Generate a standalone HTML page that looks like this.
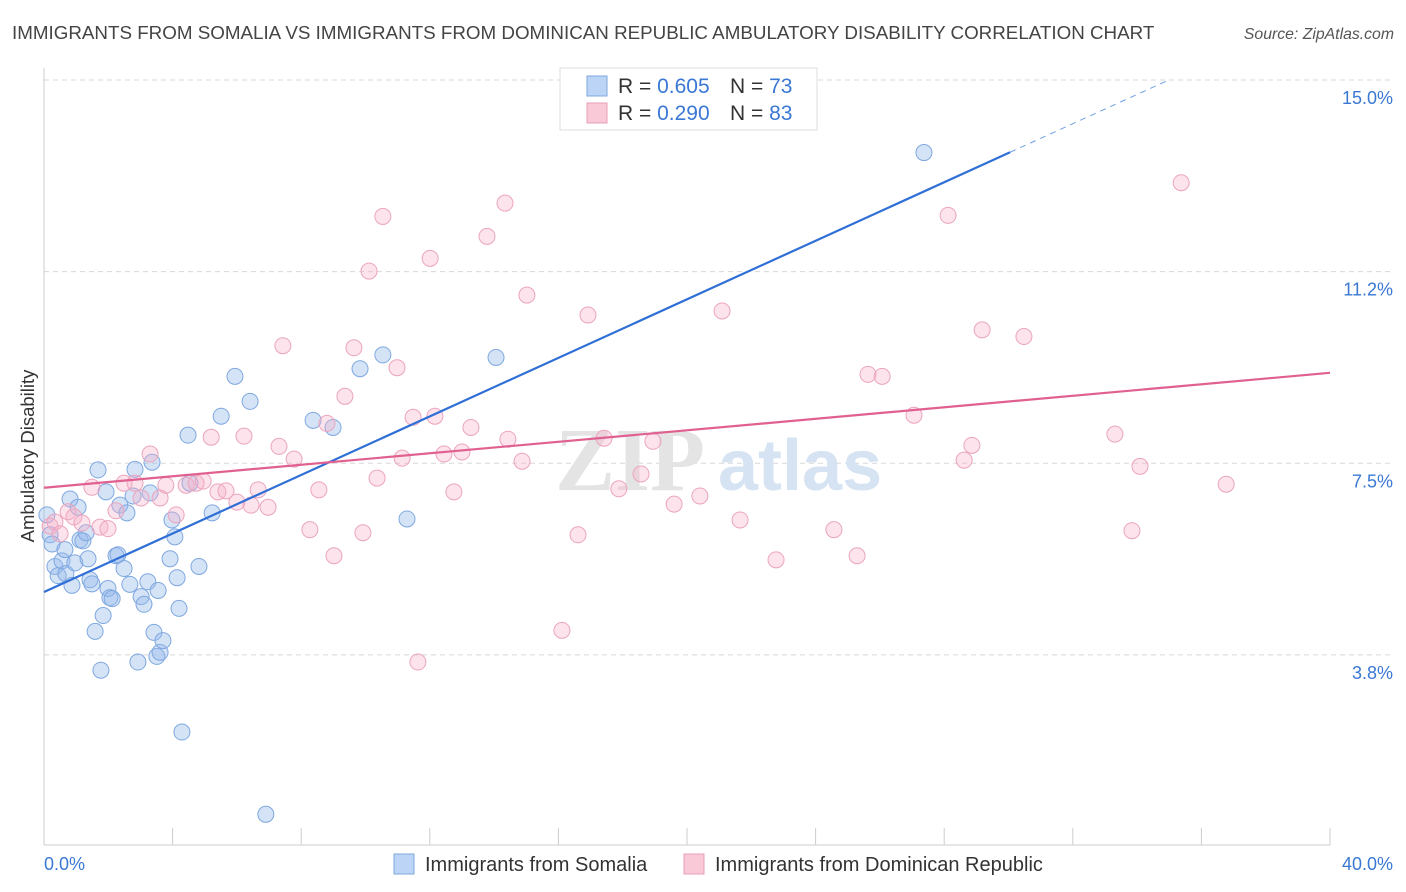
<!DOCTYPE html>
<html><head><meta charset="utf-8">
<style>
body{margin:0;background:#fff;font-family:"Liberation Sans",sans-serif;}
svg{display:block}
</style></head>
<body>
<svg id="chart" width="1406" height="892">
<text x="12" y="39" font-size="18.8" fill="#444">IMMIGRANTS FROM SOMALIA VS IMMIGRANTS FROM DOMINICAN REPUBLIC AMBULATORY DISABILITY CORRELATION CHART</text>
<text x="1394" y="39" font-size="15.8" fill="#555" font-style="italic" text-anchor="end">Source: ZipAtlas.com</text>
<g id="grid"></g>
<g id="axes"></g>
<text x="555" y="490" font-size="90" font-family="Liberation Serif,serif" fill="#e4e4e4" font-weight="bold">ZIP</text>
<text x="718" y="490" font-size="72" fill="#d6e3f3" font-weight="bold">atlas</text>
<g id="marks"></g>
<text transform="translate(34,456) rotate(-90)" font-size="18.5" fill="#333" text-anchor="middle">Ambulatory Disability</text>
<g>
<rect x="560" y="68" width="257" height="62" fill="#fff" stroke="#ddd"/>
<rect x="587" y="76" width="20" height="20" fill="#bcd4f5" stroke="#7fa8e0"/>
<rect x="587" y="103" width="20" height="20" fill="#f9c9d8" stroke="#e8a0b8"/>
<text x="618" y="93" font-size="21" fill="#333">R = <tspan fill="#3a78d4">0.605</tspan></text>
<text x="730" y="93" font-size="21" fill="#333">N = <tspan fill="#3a78d4">73</tspan></text>
<text x="618" y="120" font-size="21" fill="#333">R = <tspan fill="#3a78d4">0.290</tspan></text>
<text x="730" y="120" font-size="21" fill="#333">N = <tspan fill="#3a78d4">83</tspan></text>
</g>
<g>
<rect x="394" y="854" width="20" height="20" fill="#bcd4f5" stroke="#7fa8e0"/>
<text x="425" y="871" font-size="20" fill="#333">Immigrants from Somalia</text>
<rect x="684" y="854" width="20" height="20" fill="#f9c9d8" stroke="#e8a0b8"/>
<text x="715" y="871" font-size="20" fill="#333">Immigrants from Dominican Republic</text>
</g>
</svg>
<script>
const yTicks=[15.0,11.25,7.5,3.75];
const yTickLabels=["15.0%","11.2%","7.5%","3.8%"];
const xTickVals=[0,4,8,12,16,20,24,28,32,36,40];
const xEndLabels=["0.0%","40.0%"];
const somaliaX=[0.09,0.19,0.25,0.34,0.44,0.56,0.65,0.68,0.81,0.87,0.96,1.06,1.12,1.21,1.31,1.37,1.43,1.49,1.59,1.68,1.77,1.84,1.93,1.99,2.05,2.12,2.24,2.30,2.36,2.49,2.58,2.67,2.77,2.83,2.92,3.02,3.11,3.23,3.30,3.36,3.42,3.51,3.55,3.61,3.70,3.92,3.98,4.07,4.14,4.20,4.29,4.48,4.54,4.82,5.23,5.51,5.94,6.41,6.90,8.37,8.99,9.83,10.54,11.29,14.06,27.37];
const somaliaY=[6.49,6.10,5.92,5.48,5.30,5.59,5.81,5.34,6.80,5.11,5.55,6.64,6.00,5.98,6.14,5.63,5.22,5.14,4.21,7.37,3.45,4.52,6.94,5.05,4.87,4.85,5.69,5.71,6.68,5.44,6.53,5.13,6.86,7.38,3.61,4.89,4.74,5.18,6.92,7.52,4.19,3.72,5.01,3.80,4.03,5.63,6.39,6.06,5.26,4.66,2.24,8.05,7.11,5.48,6.53,8.42,9.20,8.71,0.63,8.34,8.20,9.35,9.62,6.41,9.57,13.58];
const domX=[0.19,0.34,0.50,0.75,0.93,1.18,1.49,1.74,1.99,2.24,2.49,2.83,3.02,3.30,3.61,3.79,4.11,4.42,4.73,4.95,5.20,5.41,5.66,6.00,6.22,6.44,6.66,6.97,7.31,7.43,7.78,8.27,8.55,8.80,9.02,9.36,9.64,9.92,10.11,10.36,10.54,10.98,11.14,11.48,11.63,12.01,12.16,12.44,12.75,13.00,13.28,13.78,14.34,14.43,14.87,15.02,16.11,16.61,16.92,17.42,17.88,18.57,18.94,19.60,20.40,21.09,21.65,22.77,24.57,25.29,25.63,26.07,27.06,28.12,28.62,28.86,29.18,30.48,33.31,34.09,33.84,35.37,36.77];
const domY=[6.27,6.35,6.12,6.55,6.45,6.33,7.03,6.25,6.22,6.57,7.11,7.11,6.82,7.68,6.82,7.07,6.49,7.07,7.11,7.15,8.01,6.94,6.96,6.74,8.03,6.68,6.98,6.64,7.83,9.80,7.58,6.20,6.98,8.28,5.69,8.81,9.76,6.14,11.26,7.21,12.33,9.37,7.60,8.40,3.61,11.51,8.42,7.68,6.94,7.72,8.20,11.94,12.59,7.97,7.54,10.79,4.23,6.10,10.40,7.99,7.00,7.29,7.93,6.70,6.86,10.48,6.39,5.61,6.20,5.69,9.24,9.20,8.44,12.35,7.56,7.85,10.11,9.98,8.07,7.44,6.18,12.99,7.09];
const somaliaTrend=[4.98,0.2864];   // intercept, slope
const somaliaTrendRange=[0,30.05,35.02]; // solid end, dashed end
const domTrend=[7.02,0.05625];
const domTrendRange=[0,40];

const X0=44,X1=1330,YTOP=80,PPU=51.1;
const xs=v=>X0+(v/40)*(X1-X0);
const ys=v=>YTOP+(15-v)*PPU;
const NS="http://www.w3.org/2000/svg";
function mk(tag,attrs,parent){const e=document.createElementNS(NS,tag);for(const k in attrs)e.setAttribute(k,attrs[k]);parent.appendChild(e);return e;}
const grid=document.getElementById('grid'),axes=document.getElementById('axes'),marks=document.getElementById('marks');
yTicks.forEach((t,i)=>{
  const l=mk('line',{x1:X0,x2:1393,y1:ys(t),y2:ys(t),stroke:'#d8d8d8','stroke-dasharray':'5,4'},grid);
  
  
  const tx=mk('text',{x:1393,y:ys(t)+24,'font-size':18,fill:'#3a78d4','text-anchor':'end'},axes);
  tx.textContent=yTickLabels[i];
  
  
});
const ax=mk('line',{x1:X0,x2:X1,y1:845,y2:845,stroke:'#ccc'},axes);


const ay=mk('line',{x1:X0,x2:X0,y1:68,y2:845,stroke:'#ccc'},axes);


xTickVals.forEach(t=>{
  const l=mk('line',{x1:xs(t),x2:xs(t),y1:828,y2:845,stroke:'#ccc'},axes);
  
  
});
[[0,'start',44],[40,'end',1393]].forEach((d,i)=>{
  const tx=mk('text',{x:d[2],y:870,'font-size':18,fill:'#3a78d4','text-anchor':d[1]},axes);
  tx.textContent=xEndLabels[i];
  
  
});
somaliaX.forEach((x,i)=>{
  const c=mk('circle',{cx:xs(x),cy:ys(somaliaY[i]),r:8,fill:'rgba(150,185,235,0.4)',stroke:'#7fa8e0','stroke-width':1},marks);
  
  
});
domX.forEach((x,i)=>{
  const c=mk('circle',{cx:xs(x),cy:ys(domY[i]),r:8,fill:'rgba(245,175,200,0.35)',stroke:'#eba5bd','stroke-width':1},marks);
  
  
});
const sf=x=>somaliaTrend[0]+somaliaTrend[1]*x;
const t1=mk('line',{x1:xs(somaliaTrendRange[0]),y1:ys(sf(somaliaTrendRange[0])),x2:xs(somaliaTrendRange[1]),y2:ys(sf(somaliaTrendRange[1])),stroke:'#2f6fd6','stroke-width':2.2},marks);


const t2=mk('line',{x1:xs(somaliaTrendRange[1]),y1:ys(sf(somaliaTrendRange[1])),x2:xs(somaliaTrendRange[2]),y2:ys(sf(somaliaTrendRange[2])),stroke:'#6f9fe0','stroke-width':1,'stroke-dasharray':'6,5'},marks);


const df=x=>domTrend[0]+domTrend[1]*x;
const t3=mk('line',{x1:xs(domTrendRange[0]),y1:ys(df(domTrendRange[0])),x2:xs(domTrendRange[1]),y2:ys(df(domTrendRange[1])),stroke:'#e06090','stroke-width':2.2},marks);


</script>
</body></html>
